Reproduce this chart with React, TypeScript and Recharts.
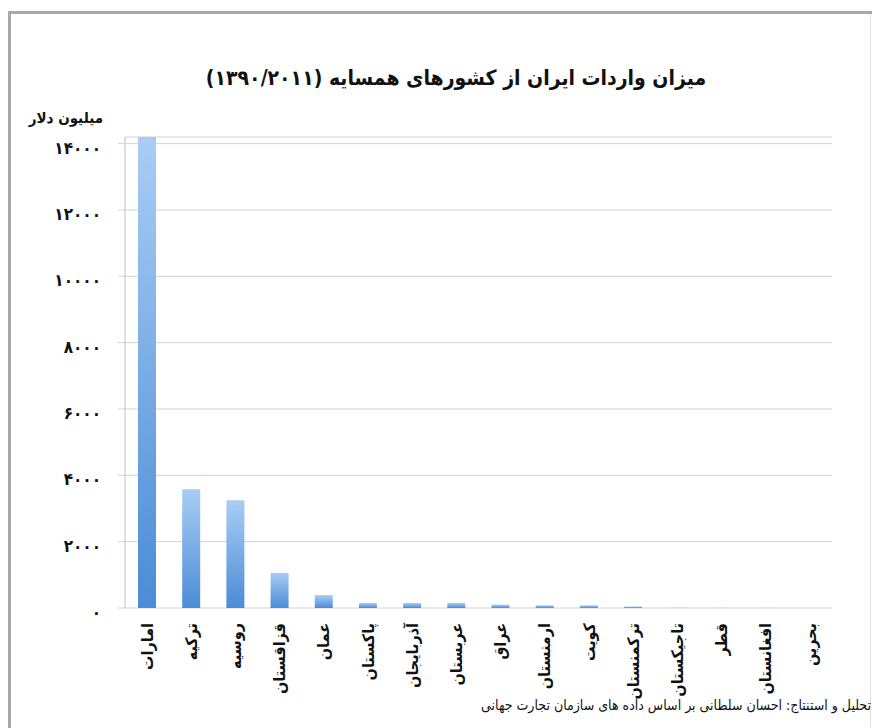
import React from "react";
import { BarChart, Bar, XAxis, YAxis, CartesianGrid } from "recharts";

// کشورهای همسایه و میزان واردات (میلیون دلار)
const countries = [
  "امارات", "ترکیه", "روسیه", "قزاقستان", "عمان", "پاکستان", "آذربایجان", "عربستان",
  "عراق", "ارمنستان", "کویت", "ترکمنستان", "تاجیکستان", "قطر", "افغانستان", "بحرین",
];
const imports = [14200, 3580, 3250, 1060, 390, 150, 150, 150, 100, 80, 80, 45, 8, 5, 4, 2];
const yTicks = [0, 2000, 4000, 6000, 8000, 10000, 12000, 14000];
const edgeTicks = countries.map((_, i) => i).concat([countries.length]);

const title = "میزان واردات ایران از کشورهای همسایه (۱۳۹۰/۲۰۱۱)";
const unitLabel = "میلیون دلار";
const footer = "تحلیل و استنتاج: احسان سلطانی بر اساس داده های سازمان تجارت جهانی";

const FONT = "'DejaVu Sans Condensed', 'DejaVu Sans', sans-serif";

const data = countries.map((name, i) => ({ name, value: imports[i] }));

// ارقام فارسی
function toPersian(n: number): string {
  return String(n).replace(/\d/g, d => "۰۱۲۳۴۵۶۷۸۹"[Number(d)]);
}

const YTick = ({ x, y, payload }: any) => (
  <text x={x} y={y + 4} dy="0.35em" textAnchor="end" fontFamily={FONT} fontWeight="bold" fontSize={17} fill="#111">
    {toPersian(payload.value)}
  </text>
);

const CountryTick = ({ x, y, payload }: any) => (
  <text
    transform={`translate(${x},${y}) rotate(-90)`}
    dy="0.35em"
    textAnchor="end"
    fontFamily={FONT}
    fontWeight="bold"
    fontSize={16}
    fill="#111"
  >
    {payload.value}
  </text>
);

export default function App() {
  return (
    <div style={{ position: "absolute", left: 0, top: 0, width: 872, height: 728, background: "#fff", overflow: "hidden" }}>
      {/* قاب */}
      <div style={{ position: "absolute", left: 8, top: 11, width: 870, height: 730, borderLeft: "3px solid #a8a8a8", borderTop: "3px solid #a8a8a8" }} />
      <div style={{ position: "absolute", left: 870, top: 14, width: 1, height: 714, background: "#e0e0e0" }} />

      <div
        dir="rtl"
        style={{ position: "absolute", left: 456, top: 66, transform: "translateX(-50%)", whiteSpace: "nowrap", fontFamily: FONT, fontWeight: "bold", fontSize: 21, color: "#111" }}
      >
        {title}
      </div>
      <div
        dir="rtl"
        style={{ position: "absolute", right: 769, top: 109, whiteSpace: "nowrap", fontFamily: FONT, fontWeight: "bold", fontSize: 15, color: "#111" }}
      >
        {unitLabel}
      </div>

      <div style={{ position: "absolute", left: 0, top: 0 }}>
        <BarChart width={872} height={728} data={data} margin={{ top: 137, right: 40, left: 0, bottom: 0 }}>
          <defs>
            <linearGradient id="barFill" x1="0" y1="0" x2="0" y2="1">
              <stop offset="0%" stopColor="#a9cdf5" />
              <stop offset="100%" stopColor="#4a8cd6" />
            </linearGradient>
          </defs>
          <CartesianGrid vertical={false} stroke="#d2d2d2" />
          <XAxis
            xAxisId="edges"
            type="number"
            domain={[0, countries.length]}
            ticks={edgeTicks}
            tick={false}
            tickSize={7}
            height={0}
            allowDataOverflow
            stroke="#bfbfbf"
          />
          <XAxis
            dataKey="name"
            interval={0}
            axisLine={false}
            tickLine={false}
            tickSize={0}
            tickMargin={15}
            height={120}
            tick={<CountryTick />}
          />
          <YAxis
            width={125}
            domain={[0, 14200]}
            ticks={yTicks}
            interval={0}
            tickSize={7}
            tickMargin={17}
            stroke="#bfbfbf"
            tickLine={{ stroke: "#d2d2d2" }}
            tick={<YTick />}
          />
          <Bar dataKey="value" fill="url(#barFill)" barSize={18} isAnimationActive={false} />
        </BarChart>
      </div>

      <div
        dir="rtl"
        style={{ position: "absolute", right: 1, top: 697, whiteSpace: "nowrap", fontFamily: FONT, fontSize: 14, color: "#111" }}
      >
        {footer}
      </div>
    </div>
  );
}
